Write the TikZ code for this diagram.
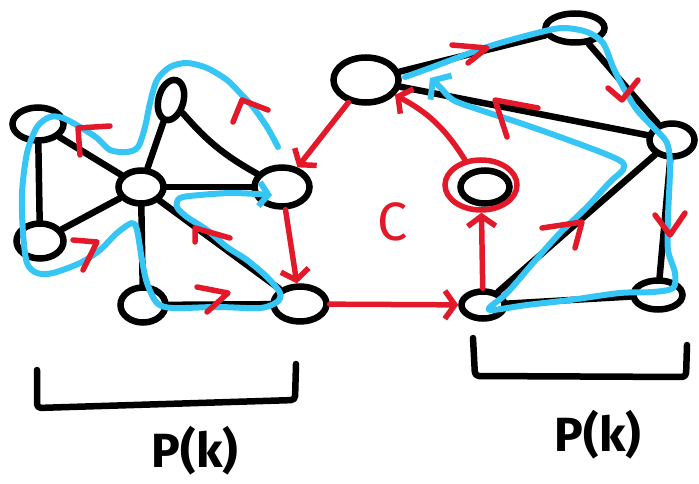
\documentclass[tikz,border=0pt]{standalone}
\usepackage{fontspec}
\setmainfont{Fira Sans}
\usetikzlibrary{positioning,arrows.meta,shapes.geometric}
\definecolor{inkred}{RGB}{227,24,40}
\definecolor{inkblue}{RGB}{53,198,245}

\begin{document}
\begin{tikzpicture}[x=1pt, y=-1pt,
    vertex/.style={ellipse, draw=black, line width=6.5pt, fill=white, inner sep=0pt},
    edge/.style={line width=6.5pt, line cap=round},
    flow/.style={draw=inkred, line width=5.5pt, line cap=round, line join=round, -{Straight Barb[length=10pt, width=28pt]}},
    tour/.style={draw=inkblue, line width=6pt, line cap=round, line join=round},
    chev/.style={draw=inkred, line width=5.5pt, line cap=round, line join=round},
    brace/.style={line width=6.5pt, line cap=round, line join=round, rounded corners=4pt},
    tag/.style={font=\fontsize{48}{48}\selectfont\bfseries, inner sep=0pt}]
    \useasboundingbox (0,0) rectangle (699,484);

    % Left part: vertices
    \node[vertex, minimum width=51pt, minimum height=33pt] (A) at (38,124) {};
    \node[vertex, minimum width=25pt, minimum height=41pt, rotate=-15] (B) at (171,100) {};
    \node[vertex, minimum width=45pt, minimum height=33pt] (C) at (141,187) {};
    \node[vertex, minimum width=47pt, minimum height=35pt] (D) at (40,241) {};
    \node[vertex, minimum width=55pt, minimum height=39pt] (E) at (282,187) {};
    \node[vertex, minimum width=45pt, minimum height=35pt] (F) at (143,305) {};
    \node[vertex, minimum width=53pt, minimum height=35pt] (G) at (300,304) {};

    % Right part: vertices
    \node[vertex, minimum width=65pt, minimum height=45pt] (H) at (366,80) {};
    \node[vertex, minimum width=59pt, minimum height=29pt] (I) at (575,28) {};
    \node[vertex, minimum width=45pt, minimum height=33pt] (J) at (672,140) {};
    \node[vertex, minimum width=49pt, minimum height=33pt] (K) at (485,187) {};
    \node[vertex, minimum width=43pt, minimum height=27pt] (L) at (483,305) {};
    \node[vertex, minimum width=49pt, minimum height=29pt] (M) at (658,295) {};

    % Black edges
    \draw[edge] (A) -- (C);
    \draw[edge] (A) -- (D);
    \draw[edge] (D) -- (C);
    \draw[edge] (C) -- (B);
    \draw[edge] (B) to[bend right=10] (E);
    \draw[edge] (C) -- (E);
    \draw[edge] (C) -- (F);
    \draw[edge] (C) -- (G);
    \draw[edge] (F) -- (G);
    \draw[edge] (H) -- (I);
    \draw[edge] (H) -- (J);
    \draw[edge] (I) -- (J);
    \draw[edge] (J) -- (L);
    \draw[edge] (J) -- (M);
    \draw[edge] (L) -- (M);

    % Blue tours
    \draw[tour, -{Straight Barb[length=9pt, width=24pt]}] plot[smooth, tension=0.5] coordinates {
        (278,147) (267,127) (253,107) (240,93) (227,80) (207,68) (187,63) (170,67) (157,80)
        (150,103) (145,127) (138,147) (127,152) (110,150) (97,138) (80,127) (63,118) (50,117)
        (37,127) (27,153) (22,193) (23,233) (27,263) (37,273) (53,273) (80,263) (100,250)
        (117,233) (132,223) (137,230) (142,260) (147,283) (157,303) (173,308) (217,307)
        (260,308) (277,302) (280,293) (267,277) (247,260) (227,247) (207,230) (187,217)
        (177,207) (180,198) (200,195) (233,193) (272,195)};
    \draw[tour, -{Straight Barb[length=11pt, width=32pt]}] plot[smooth, tension=0.5] coordinates {
        (405,77) (430,68) (487,47) (537,33) (563,28) (587,32) (603,43) (613,67) (623,87)
        (637,110) (653,127) (667,143) (670,167) (668,217) (668,250) (675,273) (673,288)
        (653,292) (620,293) (570,300) (527,305) (493,310) (490,307) (507,293) (533,263)
        (560,233) (587,207) (610,182) (623,170) (622,162) (603,153) (560,137) (520,123)
        (480,110) (453,100) (440,87) (430,78)};

    % Red cut arrows
    \node[ellipse, draw=inkred, line width=5.5pt, minimum width=72pt, minimum height=50pt] (Kring) at (481,185) {};
    \draw[flow] (H) -- (E);
    \draw[flow] (E) -- (G);
    \draw[flow] (G) -- (L);
    \draw[flow] (L) -- (Kring);
    \draw[flow] (Kring) to[bend right=15] (H);

    % Red direction marks
    \draw[chev] (110,126) -- (78,128) -- (80,155);
    \draw[chev] (268,110) -- (242,100) -- (233,122);
    \draw[chev] (73,240) -- (97,242) -- (83,270);
    \draw[chev] (230,238) -- (195,228) -- (195,242);
    \draw[chev] (197,287) -- (228,293) -- (207,312);
    \draw[chev] (452,45) -- (487,48) -- (468,63);
    \draw[chev] (538,108) -- (495,100) -- (507,137);
    \draw[chev] (608,88) -- (622,100) -- (638,80);
    \draw[chev] (655,215) -- (670,235) -- (685,213);
    \draw[chev] (542,228) -- (582,222) -- (575,248);

    \node[tag, text=inkred, font=\fontsize{54}{54}\selectfont] (cut) at (393,222) {C};

    % Brackets and labels
    \draw[brace] (37,370) -- (37,408) -- (295,400) -- (296,364);
    \draw[brace] (473,338) -- (475,376) -- (686,377) -- (687,345);
    \node[tag] (pleft) at (195,451) {P(k)};
    \node[tag] (pright) at (598,435) {P(k)};
\end{tikzpicture}
\end{document}
